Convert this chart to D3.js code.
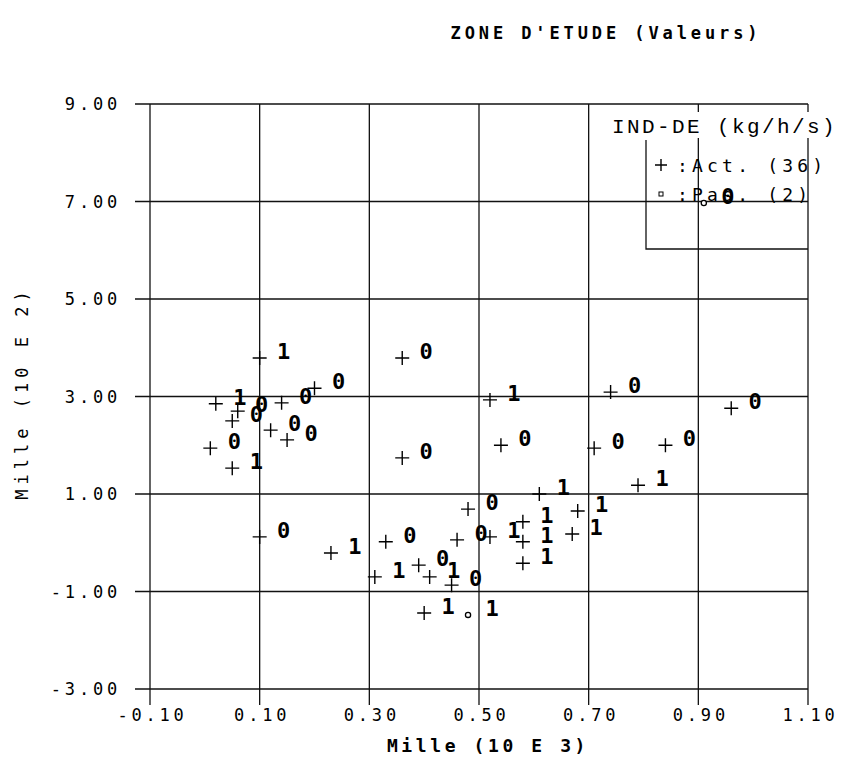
<!DOCTYPE html>
<html>
<head>
<meta charset="utf-8">
<script src="https://cdn.jsdelivr.net/npm/d3@7"></script>
<style>
  body { margin: 0; background: #fff; }
  text { font-family: "DejaVu Sans Mono", monospace; fill: #000; }
</style>
</head>
<body>
<div class="graph"></div>
<script>
var width = 841,
    height = 774;

// points "Act." (+) : x, y and the printed label
var actX = [0.10, 0.02, 0.05, 0.06, 0.12, 0.15, 0.14, 0.20, 0.01, 0.05,
            0.36, 0.36, 0.52, 0.54, 0.74, 0.71, 0.84, 0.79, 0.96,
            0.48, 0.61, 0.68, 0.58, 0.33, 0.46, 0.52, 0.58, 0.67, 0.39,
            0.58, 0.31, 0.41, 0.45, 0.40, 0.23, 0.10];
var actY = [3.79, 2.85, 2.50, 2.70, 2.31, 2.11, 2.87, 3.17, 1.94, 1.53,
            3.79, 1.74, 2.93, 2.00, 3.09, 1.94, 2.00, 1.18, 2.76,
            0.69, 1.00, 0.65, 0.43, 0.02, 0.06, 0.12, 0.02, 0.18, -0.46,
            -0.42, -0.70, -0.70, -0.87, -1.44, -0.21, 0.12];
var actLab = ["1", "1", "0", "0", "0", "0", "0", "0", "0", "1",
              "0", "0", "1", "0", "0", "0", "0", "1", "0",
              "0", "1", "1", "1", "0", "0", "1", "1", "1", "0",
              "1", "1", "1", "0", "1", "1", "0"];

// points "Pas." (small circle)
var pasX = [0.48, 0.91];
var pasY = [-1.48, 6.97];
var pasLab = ["1", "0"];

var xTicks = [-0.10, 0.10, 0.30, 0.50, 0.70, 0.90, 1.10];
var yTicks = [-3, -1, 1, 3, 5, 7, 9];

var svg = d3.select(".graph").append("svg")
    .attr("width", width)
    .attr("height", height);

var x = d3.scaleLinear().domain([-0.1, 1.1]).range([150, 808]);
var y = d3.scaleLinear().domain([-3, 9]).range([689, 104]);

var fmt = d3.format(".2f");
function lab(d) { return fmt(d).replace("\u2212", "-"); }

// grid
var grid = svg.append("g").attr("stroke", "#111").attr("stroke-width", 1.3);
grid.selectAll(".vx").data(xTicks).enter().append("line")
    .attr("x1", function(d) { return x(d); })
    .attr("x2", function(d) { return x(d); })
    .attr("y1", y(9)).attr("y2", y(-3) + 16);
grid.selectAll(".hy").data(yTicks).enter().append("line")
    .attr("y1", function(d) { return y(d); })
    .attr("y2", function(d) { return y(d); })
    .attr("x1", x(-0.1) - 15).attr("x2", x(1.1));

// axes (labels only, lines drawn above)
var xAxis = d3.axisBottom(x).tickValues(xTicks).tickSize(0).tickPadding(0).tickFormat(lab);
var yAxis = d3.axisLeft(y).tickValues(yTicks).tickSize(0).tickPadding(0).tickFormat(lab);

var gx = svg.append("g").attr("transform", "translate(0," + 721 + ")").call(xAxis);
var gy = svg.append("g").attr("transform", "translate(" + 121 + ",0)").call(yAxis);
[gx, gy].forEach(function(g) {
  g.select(".domain").remove();
  g.selectAll("text")
    .style("font-family", "'DejaVu Sans Mono', monospace")
    .style("font-size", "17px")
    .style("letter-spacing", "3.8px")
    .attr("fill", "#222");
});
gx.selectAll("text").attr("dy", 0).attr("dx", 2);
gy.selectAll("text").attr("dy", "0.35em");

// titles
svg.append("text")
    .attr("x", 606).attr("y", 39)
    .attr("text-anchor", "middle")
    .style("font-size", "17px").style("font-weight", "bold")
    .style("letter-spacing", "3.9px")
    .text("ZONE D'ETUDE (Valeurs)");

svg.append("text")
    .attr("x", 488).attr("y", 752)
    .attr("text-anchor", "middle")
    .style("font-size", "18px").style("font-weight", "bold")
    .style("letter-spacing", "3.6px")
    .text("Mille (10 E 3)");

svg.append("text")
    .attr("transform", "translate(28,393) rotate(-90)")
    .attr("text-anchor", "middle")
    .style("font-size", "17px")
    .style("letter-spacing", "5px")
    .attr("fill", "#333")
    .text("Mille (10 E 2)");

// legend
var leg = svg.append("g");
leg.append("path")
    .attr("d", "M646,140V249H808")
    .attr("fill", "none").attr("stroke", "#111").attr("stroke-width", 1.3);
leg.append("rect")
    .attr("x", 606).attr("y", 112).attr("width", 232).attr("height", 26)
    .attr("fill", "#fff");
leg.append("text")
    .attr("x", 612).attr("y", 133)
    .style("font-family", "'Liberation Mono', monospace")
    .style("font-size", "21px")
    .style("letter-spacing", "2.4px")
    .text("IND-DE (kg/h/s)");
leg.append("path")
    .attr("transform", "translate(661,165)")
    .attr("d", "M-6,0H6M0,-6V6")
    .attr("stroke", "#000").attr("stroke-width", 1.4);
leg.append("text")
    .attr("x", 677).attr("y", 172)
    .style("font-size", "18px")
    .style("letter-spacing", "4.2px")
    .text(":Act. (36)");
leg.append("rect")
    .attr("x", 659).attr("y", 192).attr("width", 4).attr("height", 4)
    .attr("fill", "none").attr("stroke", "#000").attr("stroke-width", 1);
leg.append("text")
    .attr("x", 677).attr("y", 201)
    .style("font-size", "18px")
    .style("letter-spacing", "4.2px")
    .text(":Pas. (2)");

// marks
var act = actX.map(function(d, i) { return { x: d, y: actY[i], l: actLab[i] }; });
var pas = pasX.map(function(d, i) { return { x: d, y: pasY[i], l: pasLab[i] }; });

svg.selectAll(".act").data(act).enter().append("path")
    .attr("class", "act")
    .attr("transform", function(d) { return "translate(" + x(d.x) + "," + y(d.y) + ")"; })
    .attr("d", "M-7,0H7M0,-7V7")
    .attr("stroke", "#000").attr("stroke-width", 1.4);

svg.selectAll(".pas").data(pas).enter().append("circle")
    .attr("class", "pas")
    .attr("cx", function(d) { return x(d.x); })
    .attr("cy", function(d) { return y(d.y); })
    .attr("r", 2.6)
    .attr("fill", "#fff").attr("stroke", "#000").attr("stroke-width", 1.3);

svg.selectAll(".lab").data(act.concat(pas)).enter().append("text")
    .attr("class", "lab")
    .attr("x", function(d) { return x(d.x) + 24; })
    .attr("y", function(d) { return y(d.y) - 7; })
    .attr("dy", "0.36em")
    .attr("text-anchor", "middle")
    .style("font-size", "22px").style("font-weight", "bold")
    .text(function(d) { return d.l; });
</script>
</body>
</html>
